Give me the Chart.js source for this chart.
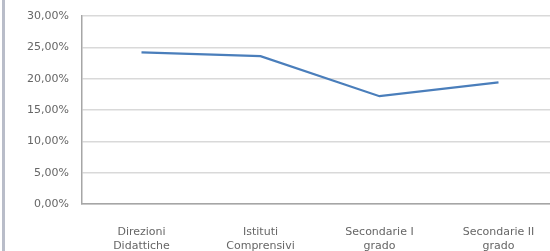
<!DOCTYPE html>
<html>
<head>
<meta charset="utf-8">
<script src="https://cdn.jsdelivr.net/npm/chart.js@4"></script>
<style>
  html, body { margin: 0; padding: 0; background: #fff; overflow: hidden; }
  #wrap { position: relative; width: 560px; height: 251px; }
  #frame { position: absolute; left: 2px; top: 0; width: 3px; height: 251px; background: #b9bdc9; }
</style>
</head>
<body>
<div id="wrap">
  <canvas id="myChart" width="560" height="251"></canvas>
  <div id="frame"></div>
</div>
<script>
const categories = [['Direzioni', 'Didattiche'], ['Istituti', 'Comprensivi'], ['Secondarie I', 'grado'], ['Secondarie II', 'grado']];
const values = [24.2, 23.6, 17.2, 19.4];
const yTickLabels = ['0,00%', '5,00%', '10,00%', '15,00%', '20,00%', '25,00%', '30,00%'];

const tickFont = { family: 'DejaVu Sans', size: 11 };

const config = {
  type: 'line',
  data: {
    labels: categories,
    datasets: [{
      label: '',
      data: values,
      borderColor: '#4a7ebb',
      borderWidth: 2.2,
      pointRadius: 0,
      tension: 0,
      fill: false
    }]
  },
  options: {
    responsive: false,
    animation: false,
    layout: { padding: { top: 16, right: 2, left: 0, bottom: 0 } },
    plugins: { legend: { display: false }, tooltip: { enabled: false } },
    scales: {
      x: {
        offset: true,
        grid: { display: false },
        border: { color: '#a6a6a6', width: 1.5 },
        ticks: { color: '#666', font: tickFont, padding: 14, maxRotation: 0, autoSkip: false },
        afterFit: function (s) { s.height = 47; }
      },
      y: {
        min: 0,
        max: 30,
        grid: { color: '#d9d9d9', lineWidth: 1.5, drawTicks: false },
        border: { color: '#a6a6a6', width: 1.5 },
        ticks: {
          stepSize: 5,
          color: '#666',
          font: tickFont,
          padding: 13,
          callback: function (v, i) { return yTickLabels[i]; }
        },
        afterFit: function (s) { s.width = 82; s.paddingTop = 0; s.paddingBottom = 0; }
      }
    }
  }
};

const myChart = new Chart(document.getElementById('myChart'), config);
</script>
</body>
</html>
